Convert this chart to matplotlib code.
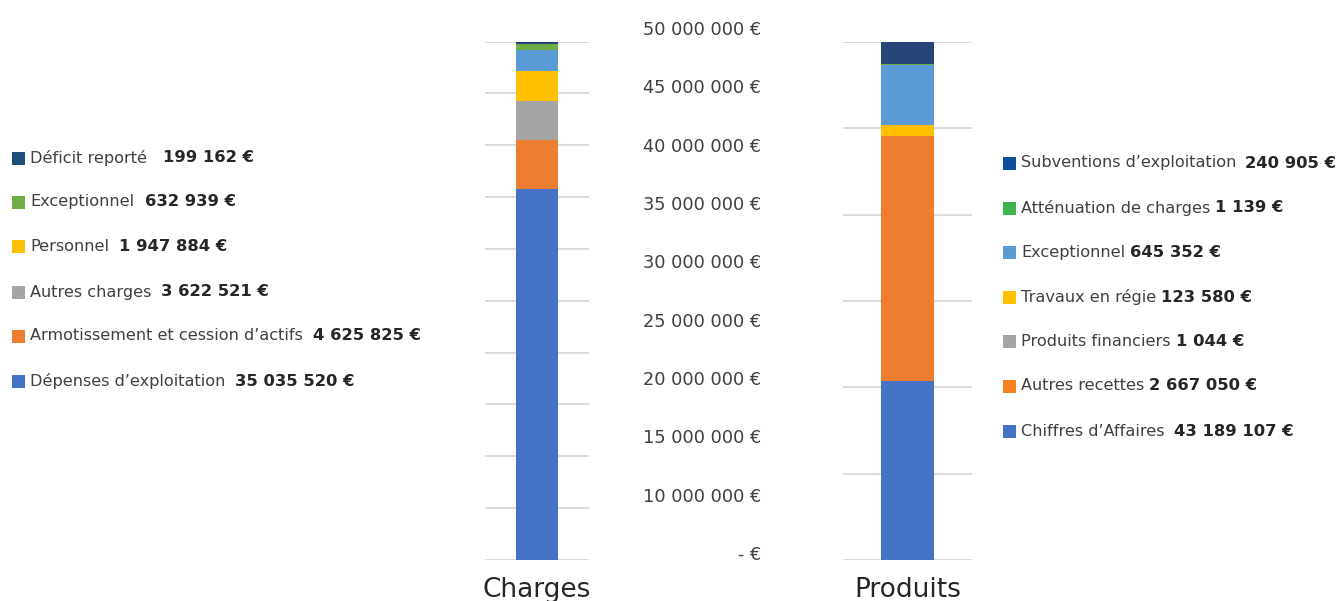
import matplotlib.pyplot as plt
from matplotlib.patches import Rectangle

W, H = 1344, 601

# Charges (left bar), heights in millions, bottom -> top
charges_heights = [35.78, 4.73, 3.76, 2.89, 2.03, 0.58, 0.24]
charges_colors = ["#4472C4", "#ED7D31", "#A5A5A5", "#FFC000", "#5B9BD5", "#70AD47", "#264478"]

# Produits (right bar), heights in millions, bottom -> top
produits_heights = [20.73, 28.38, 0.02, 1.27, 6.95, 0.05, 2.6]
produits_colors = ["#4472C4", "#ED7D31", "#A5A5A5", "#FFC000", "#5B9BD5", "#70AD47", "#264478"]

# legends (top -> bottom)
charges_labels = ["Déficit reporté", "Exceptionnel", "Personnel", "Autres charges",
                  "Armotissement et cession d\u2019actifs", "Dépenses d\u2019exploitation"]
charges_values = ["199 162 €", "632 939 €", "1 947 884 €", "3 622 521 €",
                  "4 625 825 €", "35 035 520 €"]
charges_leg_colors = ["#1F4E79", "#70AD47", "#FFC000", "#A5A5A5", "#ED7D31", "#4472C4"]

produits_labels = ["Subventions d\u2019exploitation", "Atténuation de charges", "Exceptionnel",
                   "Travaux en régie", "Produits financiers", "Autres recettes",
                   "Chiffres d\u2019Affaires"]
produits_values = ["240 905 €", "1 139 €", "645 352 €", "123 580 €", "1 044 €",
                   "2 667 050 €", "43 189 107 €"]
produits_leg_colors = ["#0B4F9C", "#3CB44B", "#5B9BD5", "#FFC000", "#A5A5A5", "#F58220", "#4472C4"]

# middle scale labels, bottom -> top
axis_labels = ["- €", "10 000 000 €", "15 000 000 €", "20 000 000 €", "25 000 000 €",
               "30 000 000 €", "35 000 000 €", "40 000 000 €", "45 000 000 €", "50 000 000 €"]


def px_axes(fig, x0, y0, x1, y1):
    return fig.add_axes([x0 / W, 1 - y1 / H, (x1 - x0) / W, (y1 - y0) / H])


def stacked_bar(ax, heights, colors, ymax, step, name):
    bottom = 0
    for h, c in zip(heights, colors):
        ax.bar(0, h, bottom=bottom, width=0.404, color=c, zorder=3)
        bottom += h
    ax.set_xlim(-0.5, 0.5)
    ax.set_ylim(0, ymax)
    ax.set_yticks([i * step for i in range(int(round(ymax / step)) + 1)])
    ax.yaxis.grid(True, color="#D9D9D9", linewidth=1.3, zorder=0)
    ax.set_axisbelow(True)
    ax.tick_params(left=False, bottom=False, labelleft=False)
    for s in ax.spines.values():
        s.set_visible(False)
    ax.set_xticks([0])
    ax.set_xticklabels([name], fontsize=19, color="#262626")
    ax.tick_params(axis="x", pad=9)
    ax.patch.set_alpha(0)


fig = plt.figure(figsize=(W / 100, H / 100), dpi=100)

ax1 = px_axes(fig, 485, 41.5, 589, 560)
stacked_bar(ax1, charges_heights, charges_colors, 50, 5, "Charges")

ax2 = px_axes(fig, 843, 42, 972, 560)
stacked_bar(ax2, produits_heights, produits_colors, 60, 10, "Produits")

# middle value axis (evenly spaced labels as in the source)
axm = px_axes(fig, 770, 28, 771, 553)
axm.set_ylim(0, len(axis_labels) - 1)
axm.set_yticks(range(len(axis_labels)))
axm.set_yticklabels(axis_labels)
axm.tick_params(left=False, bottom=False, labelbottom=False, pad=3,
                labelsize=12.8, labelcolor="#404040")
for s in axm.spines.values():
    s.set_visible(False)
axm.patch.set_alpha(0)

fig.canvas.draw()
renderer = fig.canvas.get_renderer()


def draw_legend(labels, values, colors, sq_x, text_x, ys, gaps):
    for lab, val, col, y, gap in zip(labels, values, colors, ys, gaps):
        fig.patches.append(Rectangle(((sq_x) / W, 1 - (y + 6.5) / H), 13 / W, 13 / H,
                                     transform=fig.transFigure, facecolor=col,
                                     edgecolor="none"))
        t = fig.text(text_x / W, 1 - y / H, lab, fontsize=11.6, color="#404040",
                     va="center", ha="left")
        bb = t.get_window_extent(renderer)
        fig.text((bb.x1 + gap) / W, 1 - y / H, val, fontsize=11.8, color="#262626",
                 fontweight="bold", va="center", ha="left")


draw_legend(charges_labels, charges_values, charges_leg_colors, 12, 30,
            [158, 202, 246, 292, 336, 381], [16, 11, 10, 10, 10, 10])
draw_legend(produits_labels, produits_values, produits_leg_colors, 1003, 1021,
            [163, 208, 252, 297, 341, 386, 431], [9, 5, 5, 5, 6, 5, 10])

fig.savefig("out.png", dpi=100)
